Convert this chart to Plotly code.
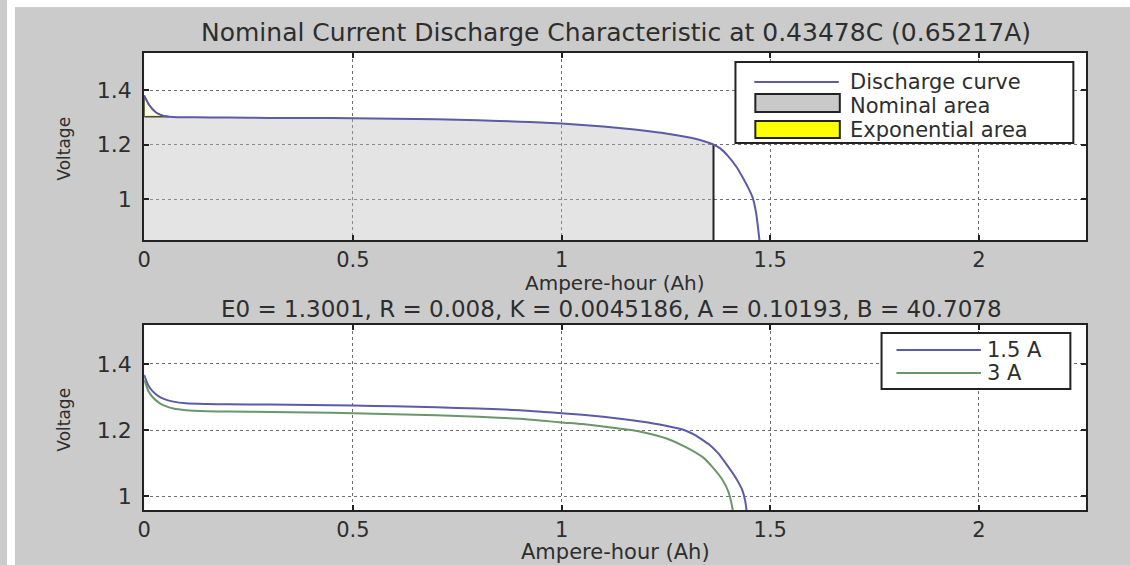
import plotly.graph_objects as go

# ---- data ---------------------------------------------------------------
# Nominal-current discharge curve (0.65217 A)
ah_nom = [0.000, 0.005, 0.010, 0.020, 0.030, 0.045, 0.060, 0.080, 0.120, 0.200,
          0.300, 0.400, 0.500, 0.600, 0.700, 0.800, 0.900, 0.950, 1.000, 1.050,
          1.100, 1.150, 1.200, 1.250, 1.300, 1.330, 1.350, 1.364, 1.380, 1.400,
          1.420, 1.433, 1.446, 1.457, 1.466, 1.474, 1.480]
v_nom = [1.380, 1.365, 1.350, 1.330, 1.316, 1.306, 1.302, 1.300, 1.300, 1.299,
         1.298, 1.298, 1.297, 1.295, 1.293, 1.289, 1.284, 1.281, 1.277, 1.272,
         1.266, 1.259, 1.251, 1.241, 1.228, 1.218, 1.208, 1.200, 1.186, 1.156,
         1.116, 1.082, 1.045, 1.009, 0.950, 0.850, 0.760]

# Zone boundaries
q_exp, v_exp = 0.060, 1.302      # end of exponential zone
q_nomz, v_nomz = 1.364, 1.200    # end of nominal zone

# Discharge curves at two currents
ah_15 = [0.000, 0.005, 0.010, 0.020, 0.035, 0.050, 0.070, 0.100, 0.150, 0.200,
         0.300, 0.400, 0.500, 0.600, 0.700, 0.800, 0.900, 0.957, 1.000, 1.050,
         1.100, 1.150, 1.195, 1.220, 1.250, 1.275, 1.298, 1.320, 1.340, 1.355,
         1.375, 1.393, 1.415, 1.433, 1.440, 1.443, 1.450]
v_15 = [1.367, 1.350, 1.335, 1.318, 1.302, 1.293, 1.286, 1.281, 1.279, 1.278,
        1.277, 1.276, 1.274, 1.272, 1.269, 1.265, 1.260, 1.255, 1.251, 1.246,
        1.240, 1.233, 1.225, 1.220, 1.213, 1.206, 1.198, 1.185, 1.168, 1.155,
        1.130, 1.100, 1.060, 1.018, 0.985, 0.958, 0.880]

ah_3 = [0.000, 0.005, 0.010, 0.020, 0.035, 0.050, 0.070, 0.100, 0.150, 0.200,
        0.300, 0.400, 0.500, 0.600, 0.700, 0.800, 0.900, 0.957, 1.000, 1.050,
        1.100, 1.167, 1.200, 1.250, 1.300, 1.338, 1.360, 1.386, 1.400, 1.410,
        1.415]
v_3 = [1.352, 1.335, 1.318, 1.300, 1.283, 1.273, 1.265, 1.260, 1.257, 1.256,
       1.255, 1.253, 1.251, 1.248, 1.245, 1.240, 1.234, 1.228, 1.223, 1.218,
       1.211, 1.200, 1.192, 1.175, 1.147, 1.118, 1.090, 1.048, 1.012, 0.958,
       0.900]

x_ticks = [0, 0.5, 1, 1.5, 2]
x_tick_text = ["0", "0.5", "1", "1.5", "2"]
y_ticks = [1, 1.2, 1.4]
y_tick_text = ["1", "1.2", "1.4"]

title_top = "Nominal Current Discharge Characteristic at 0.43478C (0.65217A)"
title_bottom = "E0 = 1.3001, R = 0.008, K = 0.0045186, A = 0.10193, B = 40.7078"
x_label = "Ampere-hour (Ah)"
y_label = "Voltage"
legend_top = ["Discharge curve", "Nominal area", "Exponential area"]
legend_bottom = ["1.5 A", "3 A"]

# ---- styling ------------------------------------------------------------
W, H = 1130, 565
BG = "#cbcbcb"
BLUE = "#5b5ba8"
GREEN = "#6a976a"
FONT = "DejaVu Sans"
TXT = "#2e2e2e"


def px(x):
    return x / W


def py(y):
    return 1 - y / H


fig = go.Figure()

# nominal zone patch (under the curve up to q_nomz)
nz_x = [0.0, 0.0] + [a for a in ah_nom if q_exp <= a <= q_nomz] + [q_nomz, q_nomz]
nz_y = [0.70, v_exp] + [v for a, v in zip(ah_nom, v_nom) if q_exp <= a <= q_nomz] + [v_nomz, 0.70]
fig.add_trace(go.Scatter(x=nz_x, y=nz_y, fill="toself", mode="lines",
                         fillcolor="rgba(185,185,185,0.38)",
                         line=dict(color="rgba(0,0,0,0)", width=0, shape="spline", smoothing=0.6),
                         hoverinfo="skip", showlegend=False, xaxis="x", yaxis="y"))
# black edge at the end of the nominal zone
fig.add_trace(go.Scatter(x=[q_nomz, q_nomz], y=[0.70, v_nomz], mode="lines",
                         line=dict(color="#222222", width=2),
                         hoverinfo="skip", showlegend=False, xaxis="x", yaxis="y"))

# exponential zone patch
ez_x = [0.0] + [a for a in ah_nom if a <= q_exp] + [q_exp, 0.0]
ez_y = [v_exp] + [v for a, v in zip(ah_nom, v_nom) if a <= q_exp] + [v_exp, v_exp]
fig.add_trace(go.Scatter(x=ez_x, y=ez_y, fill="toself", mode="lines",
                         fillcolor="rgba(255,255,120,0.18)",
                         line=dict(color="#4d4d22", width=1.5),
                         hoverinfo="skip", showlegend=False, xaxis="x", yaxis="y"))

# discharge curve at nominal current
fig.add_trace(go.Scatter(x=ah_nom, y=v_nom, mode="lines",
                         line=dict(color=BLUE, width=2, shape="spline", smoothing=0.6),
                         name=legend_top[0], showlegend=False, xaxis="x", yaxis="y"))

# bottom panel curves
fig.add_trace(go.Scatter(x=ah_15, y=v_15, mode="lines",
                         line=dict(color=BLUE, width=2, shape="spline", smoothing=0.6),
                         name=legend_bottom[0], showlegend=False, xaxis="x2", yaxis="y2"))
fig.add_trace(go.Scatter(x=ah_3, y=v_3, mode="lines",
                         line=dict(color=GREEN, width=2, shape="spline", smoothing=0.6),
                         name=legend_bottom[1], showlegend=False, xaxis="x2", yaxis="y2"))

axis_common = dict(
    showgrid=True, griddash="dot", gridcolor="#6e6e6e", gridwidth=1,
    showline=True, linecolor="#222222", linewidth=2, mirror="allticks",
    ticks="inside", ticklen=5, tickwidth=2, tickcolor="#222222",
    zeroline=False,
)
xfont = dict(family=FONT, size=21, color=TXT)
yfont = dict(family=FONT, size=22, color=TXT)

x_dom = [px(138), px(1086)]
fig.update_layout(
    width=W, height=H,
    margin=dict(l=0, r=0, t=0, b=0),
    paper_bgcolor=BG, plot_bgcolor="white",
    showlegend=False,
    xaxis=dict(axis_common, domain=x_dom, range=[0, 2.257], tickvals=x_ticks,
               ticktext=x_tick_text, anchor="y", tickfont=xfont),
    yaxis=dict(axis_common, domain=[py(240), py(53)], range=[0.85, 1.536],
               tickvals=y_ticks, ticktext=y_tick_text, anchor="x", tickfont=yfont,
               ticklabelstandoff=6),
    xaxis2=dict(axis_common, domain=x_dom, range=[0, 2.257], tickvals=x_ticks,
                ticktext=x_tick_text, anchor="y2", tickfont=xfont),
    yaxis2=dict(axis_common, domain=[py(510), py(325)], range=[0.958, 1.518],
                tickvals=y_ticks, ticktext=y_tick_text, anchor="x2", tickfont=yfont,
                ticklabelstandoff=6),
)

shapes = []
annotations = []

# white strips along the top and left edges
shapes.append(dict(type="rect", xref="paper", yref="paper", x0=0, x1=1,
                   y0=py(7), y1=1, fillcolor="white", line=dict(width=0), layer="below"))
shapes.append(dict(type="rect", xref="paper", yref="paper", x0=0, x1=px(8),
                   y0=0, y1=1, fillcolor="white", line=dict(width=0), layer="below"))


def text(x, y, s, size=21, angle=0, xanchor="center"):
    annotations.append(dict(x=px(x), y=py(y), xref="paper", yref="paper", text=s,
                            showarrow=False, xanchor=xanchor, yanchor="middle",
                            textangle=angle,
                            font=dict(family=FONT, size=size, color=TXT)))


# titles and axis labels
text(613, 33, title_top, size=25)
text(612, 283, x_label, size=20)
text(608, 309, title_bottom, size=23)
text(612, 552, x_label, size=21)
text(57, 149, y_label, size=17, angle=-90)
text(57, 420, y_label, size=17, angle=-90)

# top legend
shapes.append(dict(type="rect", xref="paper", yref="paper", x0=px(733), x1=px(1073),
                   y0=py(143), y1=py(62), fillcolor="white",
                   line=dict(color="#222222", width=2)))
shapes.append(dict(type="line", xref="paper", yref="paper", x0=px(752), x1=px(837),
                   y0=py(82), y1=py(82), line=dict(color=BLUE, width=2)))
shapes.append(dict(type="rect", xref="paper", yref="paper", x0=px(753), x1=px(838),
                   y0=py(112), y1=py(94), fillcolor="#c9c9c9",
                   line=dict(color="#222222", width=2)))
shapes.append(dict(type="rect", xref="paper", yref="paper", x0=px(753), x1=px(838),
                   y0=py(138), y1=py(121), fillcolor="#ffff00",
                   line=dict(color="#222222", width=2)))
for s, yy in zip(legend_top, [82, 106, 130]):
    text(846, yy, s, size=21, xanchor="left")

# bottom legend
shapes.append(dict(type="rect", xref="paper", yref="paper", x0=px(880), x1=px(1070),
                   y0=py(389), y1=py(333), fillcolor="white",
                   line=dict(color="#222222", width=2)))
shapes.append(dict(type="line", xref="paper", yref="paper", x0=px(895), x1=px(980),
                   y0=py(350), y1=py(350), line=dict(color=BLUE, width=2)))
shapes.append(dict(type="line", xref="paper", yref="paper", x0=px(895), x1=px(980),
                   y0=py(373), y1=py(373), line=dict(color=GREEN, width=2)))
for s, yy in zip(legend_bottom, [350, 373]):
    text(984, yy, s, size=21, xanchor="left")

fig.update_layout(shapes=shapes, annotations=annotations)

fig.write_html("out.html")
